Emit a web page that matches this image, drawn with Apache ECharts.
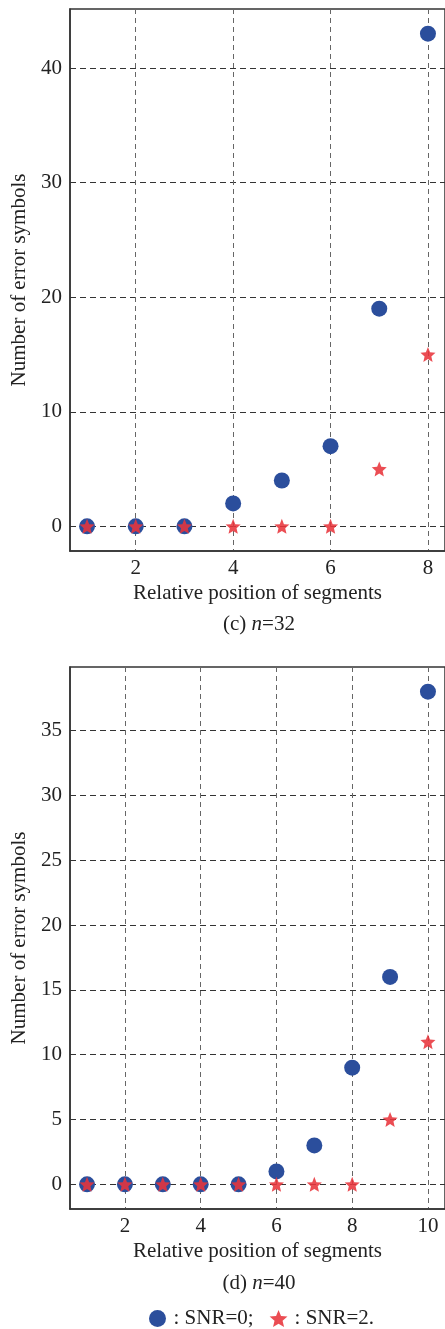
<!DOCTYPE html>
<html>
<head>
<meta charset="utf-8">
<script src="https://cdn.jsdelivr.net/npm/echarts@6/dist/echarts.min.js"></script>
<style>
html,body{margin:0;padding:0;background:#fff;}
#chart{width:445px;height:1329px;}
</style>
</head>
<body>
<div id="chart"></div>
<script>
// Panel (c) n=32
const posC = [1, 2, 3, 4, 5, 6, 7, 8];
const snr0C = [0, 0, 0, 2, 4, 7, 19, 43];
const snr2C = [0, 0, 0, 0, 0, 0, 5, 15];
const xTicksC = [2, 4, 6, 8];
const yTicksC = [0, 10, 20, 30, 40];

// Panel (d) n=40
const posD = [1, 2, 3, 4, 5, 6, 7, 8, 9, 10];
const snr0D = [0, 0, 0, 0, 0, 1, 3, 9, 16, 38];
const snr2D = [0, 0, 0, 0, 0, 0, 0, 0, 5, 11];
const xTicksD = [2, 4, 6, 8, 10];
const yTicksD = [0, 5, 10, 15, 20, 25, 30, 35];

const seriesNames = [': SNR=0;', ': SNR=2.'];
const xName = 'Relative position of segments';
const yName = 'Number of error symbols';
const captions = ['(c) {i|n}=32', '(d) {i|n}=40'];

const FONT = '"Liberation Serif", "DejaVu Serif", serif';
const FS = 21;
const TXT = '#222';
const BLUE = '#2b4e9c';
const RED = '#e8343b';
const STAR = 'path://M50,0 L63.2,31.8 L97.55,34.55 L71.4,56.95 L79.39,90.45 L50,72.5 L20.61,90.45 L28.6,56.95 L2.45,34.55 L36.8,31.8 Z';

function pad(arr, frac) {
  const lo = Math.min(...arr), hi = Math.max(...arr);
  const m = (hi - lo) * frac;
  return [lo - m, hi + m];
}
function toPts(xs, ys) { return xs.map((x, i) => [x, ys[i]]); }

const gridLine = (dash, color) => ({ show: true, lineStyle: { color: color, width: 1, type: dash } });

function xAxis(gi, xs, ticks) {
  const r = pad(xs, 0.05);
  return {
    type: 'value', gridIndex: gi, min: r[0], max: r[1],
    axisLine: { show: true, onZero: false, lineStyle: { color: '#333', width: 1.5 } },
    axisTick: { show: false, customValues: ticks },
    axisLabel: { customValues: ticks, color: TXT, fontFamily: FONT, fontSize: FS, margin: 7 },
    splitLine: gridLine([5, 4], '#666'),
    name: xName, nameLocation: 'middle', nameGap: 32,
    nameTextStyle: { color: TXT, fontFamily: FONT, fontSize: FS }
  };
}
function yAxis(gi, ys, ticks) {
  const r = pad(ys, 0.05);
  return {
    type: 'value', gridIndex: gi, min: r[0], max: r[1],
    axisLine: { show: true, onZero: false, lineStyle: { color: '#333', width: 1.5 } },
    axisTick: { show: false, customValues: ticks },
    axisLabel: { customValues: ticks, color: TXT, fontFamily: FONT, fontSize: FS, margin: 8 },
    splitLine: gridLine([6, 4], '#333'),
    name: yName, nameLocation: 'middle', nameGap: 38,
    nameTextStyle: { color: TXT, fontFamily: FONT, fontSize: FS }
  };
}

function circleSeries(gi, xs, ys) {
  return { name: seriesNames[0], type: 'scatter', xAxisIndex: gi, yAxisIndex: gi,
    symbol: 'circle', symbolSize: 16, z: 3,
    itemStyle: { color: BLUE, opacity: 1 }, data: toPts(xs, ys) };
}
function starSeries(gi, xs, ys) {
  return { name: seriesNames[1], type: 'scatter', xAxisIndex: gi, yAxisIndex: gi,
    symbol: STAR, symbolSize: 15, z: 4,
    itemStyle: { color: RED, opacity: 0.88 }, data: toPts(xs, ys) };
}

function caption(text, y) {
  return { type: 'text', x: 259, y: y,
    style: { text: text, fill: TXT, font: FS + 'px ' + FONT, align: 'center', verticalAlign: 'middle',
      rich: { i: { fontStyle: 'italic', fontFamily: FONT, fontSize: FS, fill: TXT } } } };
}

const chart = echarts.init(document.getElementById('chart'), null, { renderer: 'canvas' });
chart.setOption({
  animation: false,
  backgroundColor: '#fff',
  grid: [
    { left: 70, top: 9, width: 378, height: 542, show: true, borderColor: '#333', borderWidth: 1.5, backgroundColor: 'transparent' },
    { left: 70, top: 667, width: 378, height: 542, show: true, borderColor: '#333', borderWidth: 1.5, backgroundColor: 'transparent' }
  ],
  xAxis: [xAxis(0, posC, xTicksC), xAxis(1, posD, xTicksD)],
  yAxis: [yAxis(0, snr0C.concat(snr2C), yTicksC), yAxis(1, snr0D.concat(snr2D), yTicksD)],
  legend: {
    data: seriesNames, left: 144, top: 1303, itemGap: 16,
    itemWidth: 18, itemHeight: 17,
    textStyle: { color: TXT, fontFamily: FONT, fontSize: FS, padding: [0, 0, 0, 2] }
  },
  graphic: [caption(captions[0], 624), caption(captions[1], 1283)],
  series: [
    circleSeries(0, posC, snr0C), starSeries(0, posC, snr2C),
    circleSeries(1, posD, snr0D), starSeries(1, posD, snr2D)
  ]
});
</script>
</body>
</html>
